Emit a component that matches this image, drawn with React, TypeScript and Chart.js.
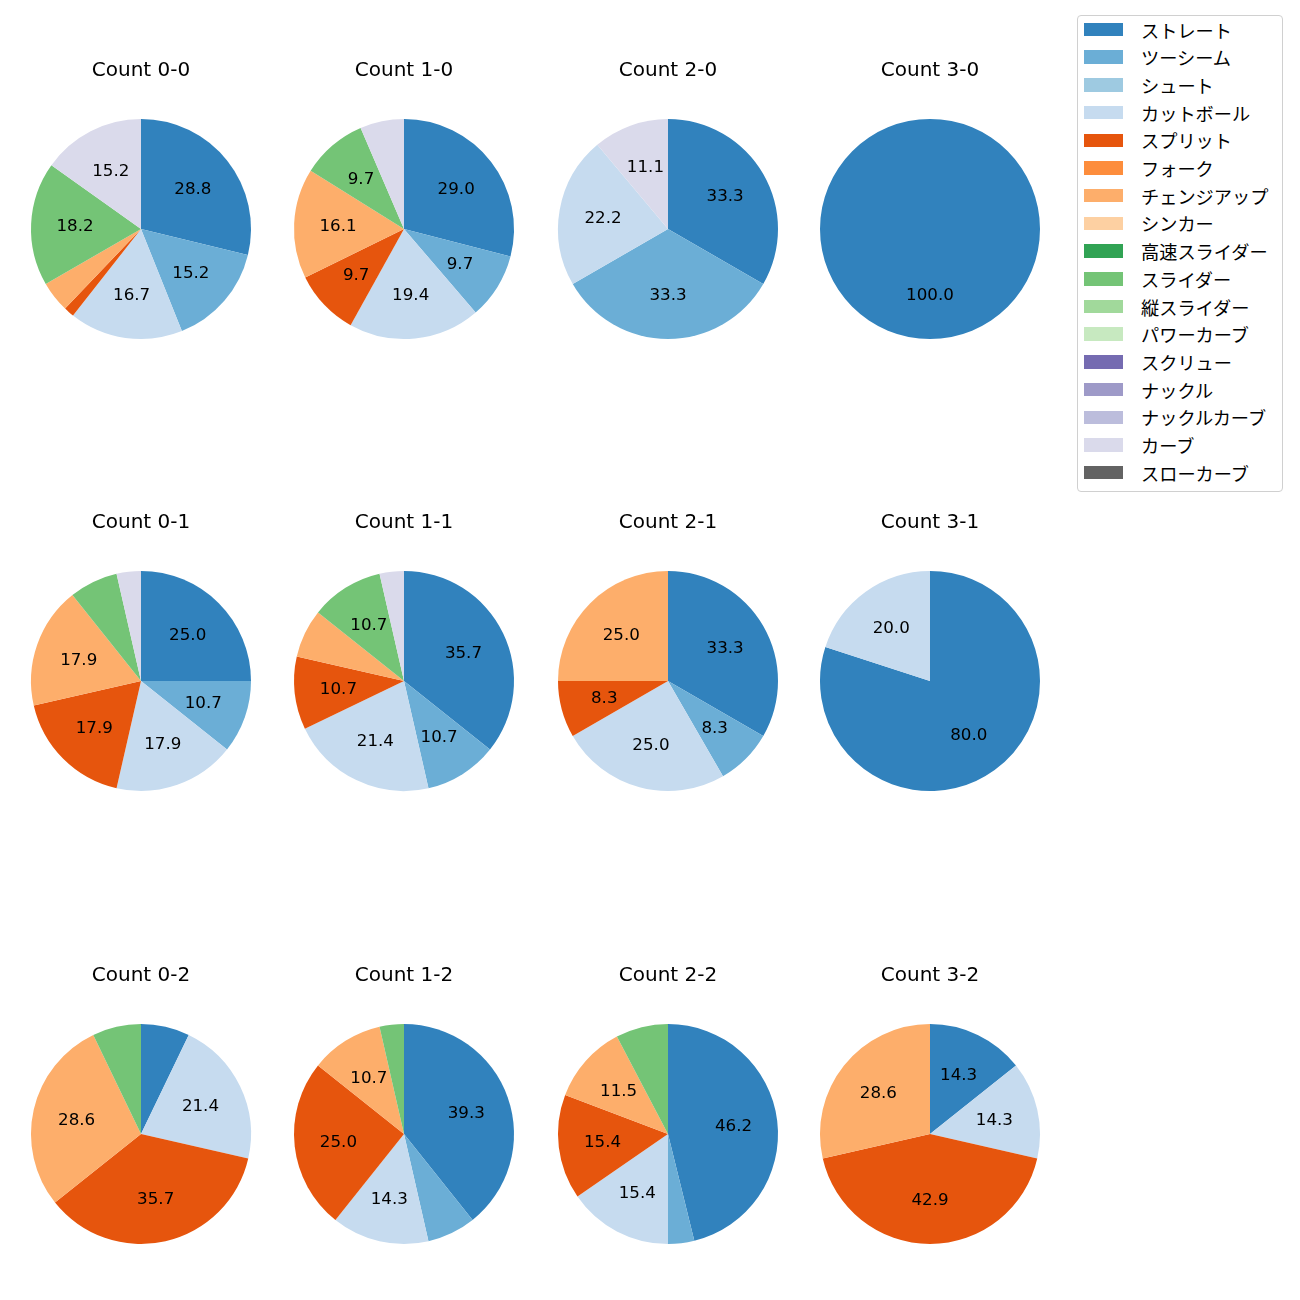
import React, { useEffect, useRef } from "react";
import { Chart, registerables } from "chart.js";

Chart.register(...registerables);

const PITCH_TYPES = [
  "ストレート", "ツーシーム", "シュート", "カットボール", "スプリット", "フォーク",
  "チェンジアップ", "シンカー", "高速スライダー", "スライダー", "縦スライダー",
  "パワーカーブ", "スクリュー", "ナックル", "ナックルカーブ", "カーブ", "スローカーブ",
];

const COLORS = [
  "#3182bd", "#6baed6", "#9ecae1", "#c6dbef", "#e6550d", "#fd8d3c", "#fdae6b",
  "#fdd0a2", "#31a354", "#74c476", "#a1d99b", "#c7e9c0", "#756bb1", "#9e9ac8",
  "#bcbddc", "#dadaeb", "#636363",
];

const COUNT_TITLES = [
  "Count 0-0", "Count 1-0", "Count 2-0", "Count 3-0",
  "Count 0-1", "Count 1-1", "Count 2-1", "Count 3-1",
  "Count 0-2", "Count 1-2", "Count 2-2", "Count 3-2",
];

// pitch counts per ball-strike count (order matches PITCH_TYPES)
const c00 = [19, 10, 0, 11, 1, 0, 3, 0, 0, 12, 0, 0, 0, 0, 0, 10, 0];
const c10 = [9, 3, 0, 6, 3, 0, 5, 0, 0, 3, 0, 0, 0, 0, 0, 2, 0];
const c20 = [3, 3, 0, 2, 0, 0, 0, 0, 0, 0, 0, 0, 0, 0, 0, 1, 0];
const c30 = [1, 0, 0, 0, 0, 0, 0, 0, 0, 0, 0, 0, 0, 0, 0, 0, 0];
const c01 = [7, 3, 0, 5, 5, 0, 5, 0, 0, 2, 0, 0, 0, 0, 0, 1, 0];
const c11 = [10, 3, 0, 6, 3, 0, 2, 0, 0, 3, 0, 0, 0, 0, 0, 1, 0];
const c21 = [4, 1, 0, 3, 1, 0, 3, 0, 0, 0, 0, 0, 0, 0, 0, 0, 0];
const c31 = [4, 0, 0, 1, 0, 0, 0, 0, 0, 0, 0, 0, 0, 0, 0, 0, 0];
const c02 = [2, 0, 0, 6, 10, 0, 8, 0, 0, 2, 0, 0, 0, 0, 0, 0, 0];
const c12 = [11, 2, 0, 4, 7, 0, 3, 0, 0, 1, 0, 0, 0, 0, 0, 0, 0];
const c22 = [12, 1, 0, 4, 4, 0, 3, 0, 0, 2, 0, 0, 0, 0, 0, 0, 0];
const c32 = [1, 0, 0, 1, 3, 0, 2, 0, 0, 0, 0, 0, 0, 0, 0, 0, 0];

const COUNT_DATA = [c00, c10, c20, c30, c01, c11, c21, c31, c02, c12, c22, c32];

const COL_X = [141, 404, 668, 930];
const ROW_Y = [229, 681, 1134];
const LATIN_FONT = "'DejaVu Sans', 'Noto Sans CJK JP', sans-serif";
const CJK_FONT = "'Noto Sans CJK JP', 'DejaVu Sans', sans-serif";
const MIN_LABEL_PCT = 8;

const pctLabels = {
  id: "pctLabels",
  afterDatasetsDraw(chart: any) {
    const ctx = chart.ctx;
    const meta = chart.getDatasetMeta(0);
    const data: number[] = chart.data.datasets[0].data;
    const total = data.reduce((a, b) => a + b, 0);
    ctx.save();
    ctx.font = `16.7px ${LATIN_FONT}`;
    ctx.fillStyle = "#000";
    ctx.textAlign = "center";
    ctx.textBaseline = "middle";
    meta.data.forEach((arc: any, i: number) => {
      const pct = (data[i] / total) * 100;
      if (!data[i] || pct < MIN_LABEL_PCT) return;
      const p = arc.getProps(["x", "y", "startAngle", "endAngle", "outerRadius"], true);
      const mid = (p.startAngle + p.endAngle) / 2;
      const r = p.outerRadius * 0.6;
      ctx.fillText(pct.toFixed(1), p.x + Math.cos(mid) * r, p.y + Math.sin(mid) * r + 1);
    });
    ctx.restore();
  },
};

function PieCell({ idx }: { idx: number }) {
  const ref = useRef<HTMLCanvasElement | null>(null);
  const col = idx % 4;
  const row = Math.floor(idx / 4);
  const cx = COL_X[col];
  const cy = ROW_Y[row];
  useEffect(() => {
    if (!ref.current) return;
    const chart = new Chart(ref.current, {
      type: "pie",
      data: {
        labels: PITCH_TYPES,
        datasets: [
          {
            data: COUNT_DATA[idx],
            backgroundColor: COLORS,
            borderWidth: 0,
          },
        ],
      },
      options: {
        responsive: false,
        animation: false,
        layout: { padding: { left: 20, right: 20, bottom: 20, top: 10 } },
        plugins: {
          legend: { display: false },
          tooltip: { enabled: false },
          title: {
            display: true,
            text: COUNT_TITLES[idx],
            color: "#000",
            font: { family: LATIN_FONT, size: 20, weight: "normal", lineHeight: 1.2 },
            padding: { top: 0, bottom: 36 },
          },
        },
      },
      plugins: [pctLabels],
    } as any);
    return () => chart.destroy();
  }, [idx]);
  return (
    <canvas
      ref={ref}
      width={260}
      height={310}
      style={{ position: "absolute", left: cx - 130, top: cy - 180, width: 260, height: 310 }}
    />
  );
}

export default function App() {
  return (
    <div style={{ position: "absolute", left: 0, top: 0, width: 1300, height: 1300, background: "#fff" }}>
      {COUNT_DATA.map((_, i) => (
        <PieCell key={i} idx={i} />
      ))}
      <div
        style={{
          position: "absolute",
          left: 1077,
          top: 15,
          width: 206,
          height: 477,
          border: "1px solid #d0d0d0",
          borderRadius: 4,
          background: "#fff",
          boxSizing: "border-box",
        }}
      />
      {PITCH_TYPES.map((name, i) => {
        const yc = 29.5 + i * 27.7;
        return (
          <React.Fragment key={name}>
            <div
              style={{
                position: "absolute",
                left: 1084,
                top: yc - 6.8,
                width: 39,
                height: 13.6,
                background: COLORS[i],
              }}
            />
            <div
              style={{
                position: "absolute",
                left: 1141,
                top: yc - 12,
                height: 24,
                lineHeight: "24px",
                fontFamily: CJK_FONT,
                fontSize: 18.2,
                color: "#000",
                whiteSpace: "nowrap",
              }}
            >
              {name}
            </div>
          </React.Fragment>
        );
      })}
    </div>
  );
}
